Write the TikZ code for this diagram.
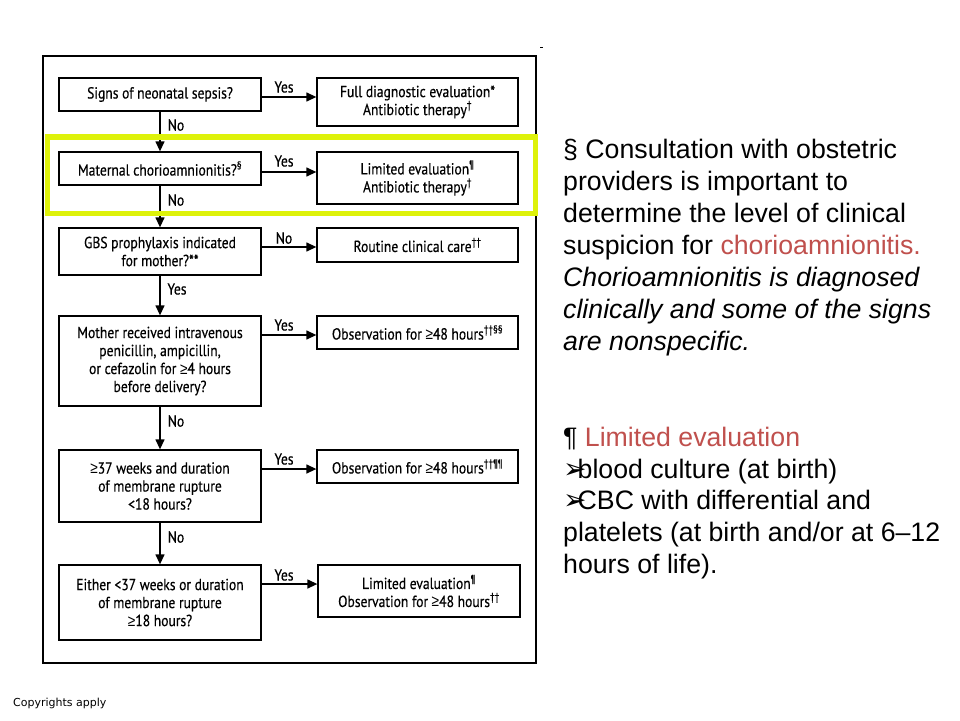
\documentclass[tikz,border=0pt]{standalone}
\usepackage{fontspec}
\setmainfont{Liberation Sans}
\newfontfamily\flow[FakeStretch=0.85,FakeBold=0.4]{PT Sans}
\newfontfamily\lib[FakeStretch=0.85]{Liberation Sans}
\newfontfamily\djv{DejaVu Sans}
\newcommand\gsym{{\lib ≥}}
\usetikzlibrary{arrows.meta}
\definecolor{hl}{RGB}{222,242,10}
\definecolor{redtxt}{RGB}{192,80,77}
\begin{document}
\begin{tikzpicture}[x=1pt,y=-1pt,
  box/.style={draw, line width=1.3pt, inner sep=0pt, align=center,
    font=\flow\fontsize{16}{18}\selectfont},
  lbox/.style={box, minimum width=202pt},
  rbox/.style={box, minimum width=201pt},
  arr/.style={line width=1.3pt, -{Triangle[length=10pt,width=9pt]}},
  lab/.style={font=\flow\fontsize{16}{16}\selectfont, inner sep=0pt},
  rt/.style={font=\fontsize{26.7}{32}\selectfont, inner sep=0pt, anchor=base west},
  bul/.style={}]
\useasboundingbox (0,0) rectangle (960,720);
\fill[white] (0,0) rectangle (960,720);

% frame
\draw[line width=1.5pt] (43,56) rectangle (536,663);
\draw[line width=0.8pt] (540,47) -- (542.5,47);

% left column
\node[lbox, minimum height=33pt] (l1) at (160,94.5) {Signs of neonatal sepsis?};
\node[lbox, minimum height=33pt] (l2) at (160,168.5) {Maternal chorioamnionitis?\textsuperscript{§}};
\node[lbox, minimum height=47pt] (l3) at (160,251.5) {GBS prophylaxis indicated\\for mother?**};
\node[lbox, minimum height=90pt] (l4) at (160,361) {Mother received intravenous\\penicillin, ampicillin,\\or cefazolin for \gsym4 hours\\before delivery?};
\node[lbox, minimum height=72pt] (l5) at (160,486) {\gsym37 weeks and duration\\of membrane rupture\\<18 hours?};
\node[lbox, minimum height=75pt] (l6) at (160,602.5) {Either <37 weeks or duration\\of membrane rupture\\\gsym18 hours?};

% right column
\node[rbox, minimum height=48pt] (r1) at (417.5,102) {Full diagnostic evaluation*\\Antibiotic therapy\textsuperscript{†}};
\node[rbox, minimum height=52pt] (r2) at (417.5,178) {Limited evaluation\textsuperscript{¶}\\Antibiotic therapy\textsuperscript{†}};
\node[rbox, minimum height=34pt] (r3) at (417.5,245) {Routine clinical care\textsuperscript{††}};
\node[rbox, minimum height=33pt] (r4) at (417.5,332.5) {Observation for \gsym48 hours\textsuperscript{††§§}};
\node[rbox, minimum height=33pt] (r5) at (417.5,466.5) {Observation for \gsym48 hours\textsuperscript{††¶¶}};
\node[box, minimum width=202pt, minimum height=52pt] (r6) at (419,591) {Limited evaluation\textsuperscript{¶}\\Observation for \gsym48 hours\textsuperscript{††}};

% vertical arrows
\draw[arr] (l1) -- (l2);
\draw[arr] (l2) -- (l3);
\draw[arr] (l3) -- (l4);
\draw[arr] (l4) -- (l5);
\draw[arr] (l5) -- (l6);

% horizontal arrows
\draw[arr] (l1.east |- 0,97) -- (r1.west |- 0,97);
\draw[arr] (l2.east |- 0,172) -- (r2.west |- 0,172);
\draw[arr] (l3.east |- 0,247) -- (r3.west |- 0,247);
\draw[arr] (l4.east |- 0,335) -- (r4.west |- 0,335);
\draw[arr] (l5.east |- 0,469) -- (r5.west |- 0,469);
\draw[arr] (l6.east |- 0,584) -- (r6.west |- 0,584);

% labels
\node[lab] (y1) at (284,87) {Yes};
\node[lab] (y2) at (284,161) {Yes};
\node[lab] (n3) at (284,238) {No};
\node[lab] (y4) at (284,325) {Yes};
\node[lab] (y5) at (284,459) {Yes};
\node[lab] (y6) at (284,575) {Yes};
\node[lab] (v1) at (176,125) {No};
\node[lab] (v2) at (176,200) {No};
\node[lab] (v3) at (177,289) {Yes};
\node[lab] (v4) at (176,421) {No};
\node[lab] (v5) at (176,537) {No};

% highlight
\draw[hl, line width=5.5pt] (47.5,137) rectangle (535.5,213.5);

% right-hand text
\node[rt] (t1) at (563,158) {§ Consultation with obstetric};
\node[rt] (t2) at (563,190) {providers is important to};
\node[rt] (t3) at (563,222) {determine the level of clinical};
\node[rt] (t4) at (563,254) {suspicion for \textcolor{redtxt}{chorioamnionitis.}};
\node[rt] (t5) at (563,286) {\itshape Chorioamnionitis is diagnosed};
\node[rt] (t6) at (563,318) {\itshape clinically and some of the signs};
\node[rt] (t7) at (563,350) {\itshape are nonspecific.};

\node[rt] (u1) at (563,446) {¶ \textcolor{redtxt}{Limited evaluation}};
\node[rt] (u2) at (563,478) {{\djv\fontsize{28}{30}\selectfont ➢}\kern-9pt blood culture (at birth)};
\node[rt] (u3) at (563,509) {{\djv\fontsize{28}{30}\selectfont ➢}\kern-9pt CBC with differential and};
\node[rt] (u4) at (563,541) {platelets (at birth and/or at 6–12};
\node[rt] (u5) at (563,573) {hours of life).};

\node[font=\djv\fontsize{11}{13}\selectfont, inner sep=0pt, anchor=base west] (cp) at (13,706) {Copyrights apply};
\end{tikzpicture}
\end{document}
